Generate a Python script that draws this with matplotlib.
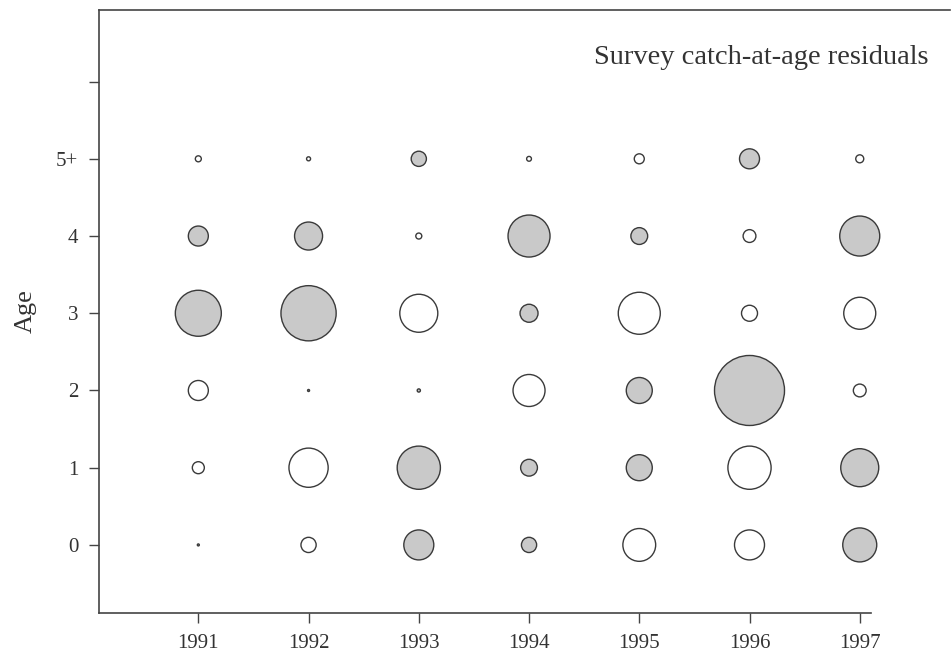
import matplotlib.pyplot as plt
import numpy as np

plt.rcParams['font.family'] = ['Liberation Serif', 'DejaVu Serif']

years = [1991, 1992, 1993, 1994, 1995, 1996, 1997]
ages = [0, 1, 2, 3, 4, 5]
age_labels = ['0', '1', '2', '3', '4', '5+', '']

# survey residuals, rows = years, columns = ages 0..5+ (positive = shaded)
res_1991 = [0.05, -0.30, -0.50, 1.15, 0.50, -0.15]
res_1992 = [-0.38, -0.98, 0.05, 1.38, 0.70, -0.10]
res_1993 = [0.75, 1.08, 0.08, -0.95, -0.15, 0.38]
res_1994 = [0.38, 0.42, -0.80, 0.45, 1.05, -0.12]
res_1995 = [-0.82, 0.65, 0.65, -1.05, 0.42, -0.25]
res_1996 = [-0.75, -1.08, 1.75, -0.40, -0.32, 0.50]
res_1997 = [0.85, 0.95, -0.32, -0.80, 1.00, -0.20]

resid = np.array([res_1991, res_1992, res_1993, res_1994,
                  res_1995, res_1996, res_1997])

fig = plt.figure(figsize=(9.53, 6.52), dpi=100)
ax = fig.add_axes([0.104, 0.06, 0.893, 0.925])

X, Y = np.meshgrid(years, ages, indexing='ij')
x = X.ravel()
y = Y.ravel()
r = resid.ravel()
# radius in pixels ~ 20 * |residual|
size = (1.44 * 20 * np.abs(r)) ** 2
colors = np.where(r > 0, '#c9c9c9', 'white')
ax.scatter(x, y, s=size, c=colors, edgecolors='#3a3a3a', linewidths=1.0, zorder=3)

ax.set_xlim(1990.1, 1997.82)
ax.set_ylim(-0.88, 6.93)
ax.set_xticks(years)
ax.set_xticklabels([str(v) for v in years], fontsize=15, color='#333333')
ax.set_yticks(range(7))
ax.set_yticklabels(age_labels, fontsize=15, color='#333333')
ax.set_ylabel('Age', fontsize=19, color='#333333', labelpad=14)
ax.tick_params(direction='out', length=7, width=1, color='#444444', pad=8)

ax.spines['right'].set_visible(False)
for s in ['left', 'top', 'bottom']:
    ax.spines[s].set_color('#444444')
    ax.spines[s].set_linewidth(1.2)
ax.spines['bottom'].set_bounds(1990.1, 1997.1)

ax.text(0.974, 0.942, 'Survey catch-at-age residuals', transform=ax.transAxes,
        ha='right', va='top', fontsize=20.5, color='#333333')

fig.savefig('out.png', dpi=100)
